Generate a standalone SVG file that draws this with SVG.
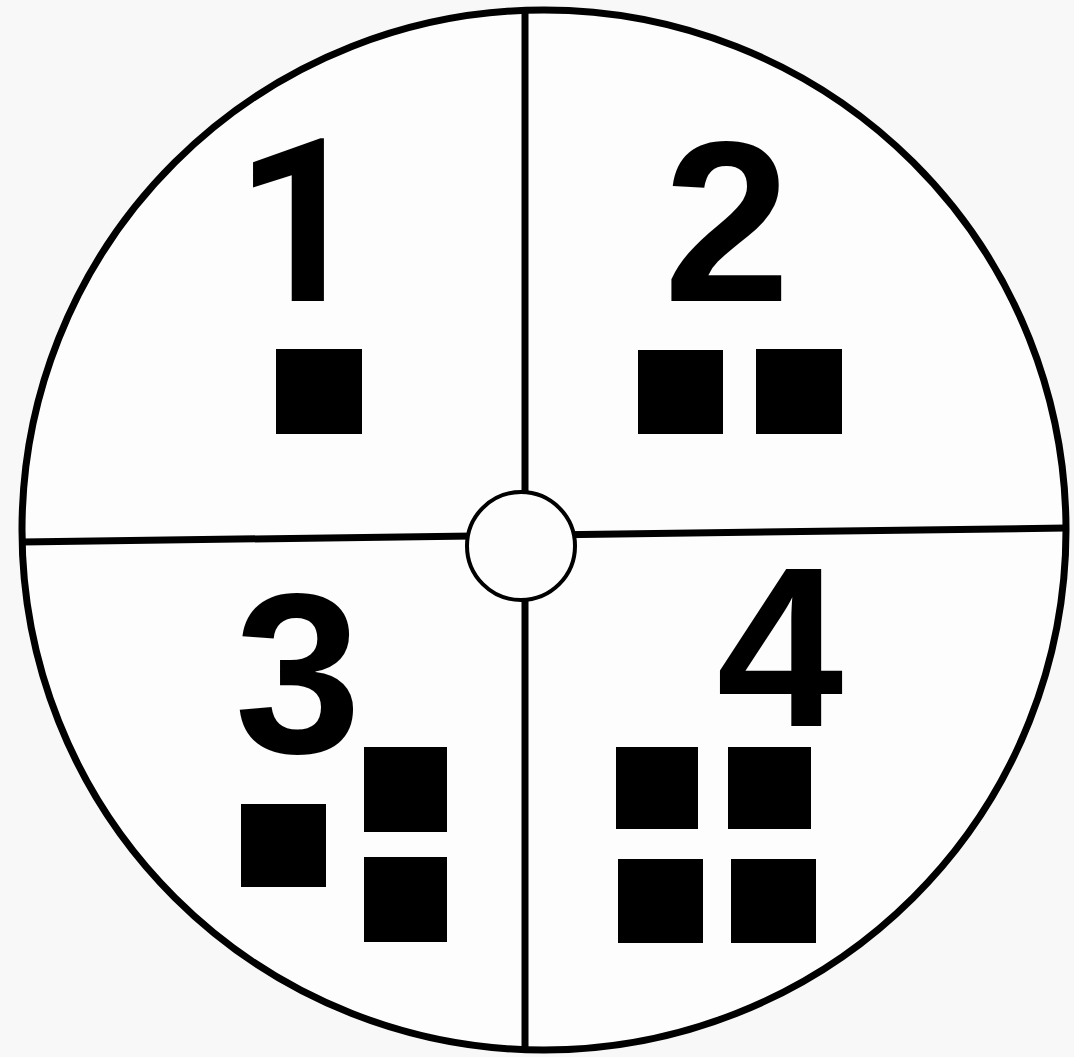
<svg xmlns="http://www.w3.org/2000/svg" width="1074" height="1057" viewBox="0 0 1074 1057">
  <style>
    .num { font-family: "Liberation Sans", Arial, sans-serif; font-weight: bold; font-size: 228px; fill: #000; text-anchor: middle; }
    .one { font-family: Roboto, "Liberation Sans", Arial, sans-serif; font-size: 229px; }
    .sq { fill: #000; }
    .line { stroke: #000; stroke-width: 7; fill: none; stroke-linecap: butt; }
  </style>
  <rect x="0" y="0" width="1074" height="1057" fill="#f8f8f8"/>
  <g id="wheel">
    <ellipse cx="544" cy="530" rx="522" ry="520" fill="#fdfdfd" stroke="#000" stroke-width="7"/>
  </g>
  <g id="dividers">
    <line class="line" x1="525" y1="10" x2="525" y2="1050"/>
    <line class="line" x1="22" y1="542" x2="1066" y2="528"/>
  </g>
  <g id="hub">
    <circle cx="521" cy="546" r="54" fill="#fdfdfd" stroke="#000" stroke-width="4"/>
  </g>
  <g id="q1">
    <text class="num one" x="300" y="301">1</text>
    <rect class="sq" x="276" y="349" width="86" height="85"/>
  </g>
  <g id="q2">
    <text class="num" x="727" y="301">2</text>
    <rect class="sq" x="638" y="350" width="85" height="84"/>
    <rect class="sq" x="756" y="349" width="86" height="85"/>
  </g>
  <g id="q3">
    <text class="num" x="298" y="752">3</text>
    <rect class="sq" x="241" y="804" width="85" height="83"/>
    <rect class="sq" x="364" y="747" width="83" height="85"/>
    <rect class="sq" x="364" y="857" width="83" height="85"/>
  </g>
  <g id="q4">
    <text class="num" x="780" y="726">4</text>
    <rect class="sq" x="616" y="747" width="82" height="82"/>
    <rect class="sq" x="728" y="747" width="83" height="82"/>
    <rect class="sq" x="618" y="859" width="85" height="84"/>
    <rect class="sq" x="731" y="859" width="85" height="84"/>
  </g>
</svg>
